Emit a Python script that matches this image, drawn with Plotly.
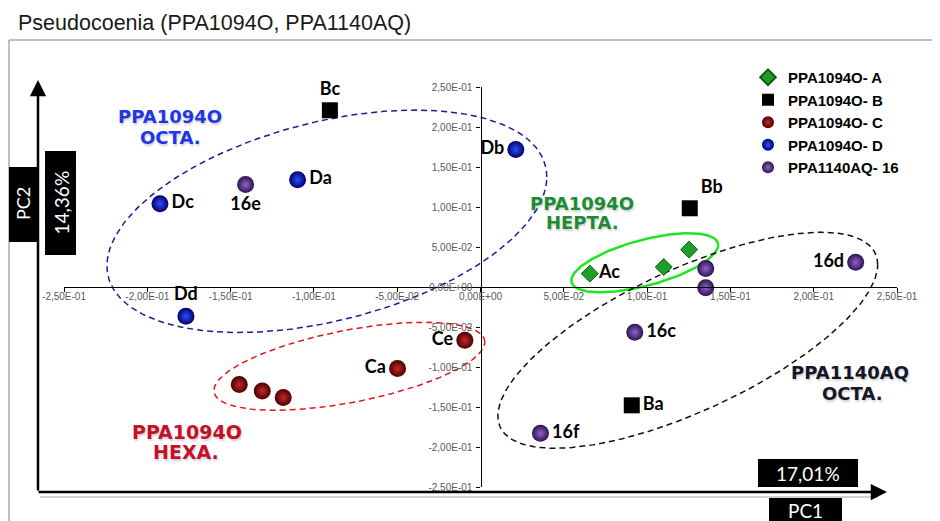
import numpy as np
import plotly.graph_objects as go

# ---------------- data ----------------
a_x = [0.0656, 0.1100, 0.1252]
a_y = [0.0167, 0.0250, 0.0467]
a_lab = ["Ac", "", ""]

b_x = [-0.0904, 0.1256, 0.0908]
b_y = [0.2209, 0.0984, -0.1479]
b_lab = ["Bc", "Bb", "Ba"]

c_x = [-0.0094, -0.0498, -0.1448, -0.1310, -0.1184]
c_y = [-0.0666, -0.1020, -0.1220, -0.1300, -0.1380]
c_lab = ["Ce", "Ca", "", "", ""]

d_x = [-0.1924, -0.1098, -0.1768, 0.0212]
d_y = [0.1042, 0.1342, -0.0366, 0.1720]
d_lab = ["Dc", "Da", "Dd", "Db"]

p_x = [-0.1410, 0.1352, 0.1352, 0.2252, 0.0926, 0.0360]
p_y = [0.1280, 0.0230, -0.0008, 0.0309, -0.0566, -0.1829]
p_lab = ["16e", "", "", "16d", "16c", "16f"]

series_names = ["PPA1094O- A", "PPA1094O- B", "PPA1094O- C", "PPA1094O- D", "PPA1140AQ- 16"]

tick_vals = [-0.25, -0.20, -0.15, -0.10, -0.05, 0.0, 0.05, 0.10, 0.15, 0.20, 0.25]
tick_text = ["-2,50E-01", "-2,00E-01", "-1,50E-01", "-1,00E-01", "-5,00E-02", "0,00E+00",
             "5,00E-02", "1,00E-01", "1,50E-01", "2,00E-01", "2,50E-01"]

# group ellipses: centre, half-extent in x / y, tilt factor
ellipses = [
    dict(cx=-0.0922, cy=0.0821, w=0.132, h=0.139, c=0.40, color="#1c1c96", dash="6px,4px", width=1.5),
    dict(cx=-0.0787, cy=-0.0991, w=0.0813, h=0.055, c=0.55, color="#e3161c", dash="6px,4px", width=1.5),
    dict(cx=0.0986, cy=0.0303, w=0.0441, h=0.0369, c=0.60, color="#1ee61e", dash="solid", width=2.5),
    dict(cx=0.1244, cy=-0.0666, w=0.114, h=0.135, c=0.70, color="#111111", dash="6px,4px", width=1.5),
]

# ---------------- layout helpers ----------------
# the page body adds an 8px margin, so the figure is made 8px smaller and
# every screen position below (given in window pixels) is shifted by OFF.
OFF = 8
WIN_W, WIN_H = 940, 521
W, H = WIN_W - OFF, WIN_H - OFF
L, R, T, B = 64, 897, 87, 487          # plot area in window pixels


def px(x):
    return (x - L) / (R - L)


def py(y):
    return (B - y) / (B - T)


fig = go.Figure()

t = np.linspace(0, 2 * np.pi, 241)
for e in ellipses:
    phi = np.arccos(e["c"])
    fig.add_trace(go.Scatter(
        x=e["cx"] + e["w"] * np.cos(t),
        y=e["cy"] + e["h"] * np.cos(t - phi),
        mode="lines", line=dict(color=e["color"], width=e["width"], dash=e["dash"]),
        showlegend=False, hoverinfo="skip"))

lab_font = dict(family="Lato", size=18, color="black", weight="bold")

fig.add_trace(go.Scatter(
    x=a_x, y=a_y, text=a_lab, mode="markers+text", name=series_names[0], cliponaxis=False,
    textposition=["middle right"] * 3, textfont=lab_font,
    marker=dict(symbol="diamond", size=13, color="#1d9e2a", line=dict(color="#0d5c12", width=1))))

fig.add_trace(go.Scatter(
    x=b_x, y=b_y, text=b_lab, mode="markers+text", name=series_names[1], cliponaxis=False,
    textposition=["top center", "top right", "middle right"], textfont=lab_font,
    marker=dict(symbol="square", size=16, color="black")))

# spheres: marker.color is the rim, gradient.color the (lighter) centre
fig.add_trace(go.Scatter(
    x=c_x, y=c_y, text=c_lab, mode="markers+text", name=series_names[2], cliponaxis=False,
    textposition=["middle left"] * 5, textfont=lab_font,
    marker=dict(symbol="circle", size=17, color="#4a0000",
                gradient=dict(type="radial", color="#c42a2a"), line=dict(width=0))))

fig.add_trace(go.Scatter(
    x=d_x, y=d_y, text=d_lab, mode="markers+text", name=series_names[3], cliponaxis=False,
    textposition=["middle right", "middle right", "top center", "middle left"], textfont=lab_font,
    marker=dict(symbol="circle", size=17, color="#00006a",
                gradient=dict(type="radial", color="#2c50ff"), line=dict(width=0))))

fig.add_trace(go.Scatter(
    x=p_x, y=p_y, text=p_lab, mode="markers+text", name=series_names[4], cliponaxis=False,
    textposition=["bottom center", "middle right", "middle right", "middle left", "middle right", "middle right"],
    textfont=lab_font,
    marker=dict(symbol="circle", size=17, color="#2e1252",
                gradient=dict(type="radial", color="#8e64c6"), line=dict(width=0))))

axis_common = dict(
    range=[-0.25, 0.25], anchor="free", position=0.5,
    showline=True, linecolor="black", linewidth=1.3,
    ticks="outside", ticklen=4, tickcolor="black", tickwidth=1,
    tickvals=tick_vals, ticktext=tick_text,
    tickfont=dict(family="Liberation Sans", size=10, color="#595959"),
    showgrid=False, zeroline=False, fixedrange=True)

xaxis = dict(axis_common, ticklabelstandoff=-4)
yaxis = dict(axis_common, ticklabelstandoff=2)

shapes = []
annotations = []

# outer frame (top & left)
shapes.append(dict(type="line", xref="paper", yref="paper", x0=px(9), x1=px(950), y0=py(40), y1=py(40),
                   line=dict(color="#7f7f7f", width=1)))
shapes.append(dict(type="line", xref="paper", yref="paper", x0=px(9), x1=px(9), y0=py(40), y1=py(530),
                   line=dict(color="#7f7f7f", width=1)))
# arrow shadow
shapes.append(dict(type="line", xref="paper", yref="paper", x0=px(40), x1=px(878), y0=py(497), y1=py(497),
                   line=dict(color="rgba(0,0,0,0.18)", width=2)))

# arrows
annotations.append(dict(xref="paper", yref="paper", x=px(887), y=py(492), ax=-850, ay=0, text="",
                        showarrow=True, arrowhead=2, arrowsize=1.3, arrowwidth=2.5, arrowcolor="black"))
annotations.append(dict(xref="paper", yref="paper", x=px(38), y=py(80), ax=0, ay=412, text="",
                        showarrow=True, arrowhead=2, arrowsize=1.3, arrowwidth=2.5, arrowcolor="black"))

# black boxes with white text
boxes = [
    (9, 37, 167, 242, 204, "PC2", -90, 18),
    (45, 76, 151, 255, 203, "14,36%", -90, 19),
    (758, 858, 459, 487, 473, "17,01%", 0, 19),
    (769, 842, 498, 530, 510, "PC1", 0, 19),
]
for x0, x1, y0, y1, yc, txt, ang, fs in boxes:
    shapes.append(dict(type="rect", xref="paper", yref="paper", x0=px(x0), x1=px(x1), y0=py(y1), y1=py(y0),
                       fillcolor="black", line=dict(width=0), layer="above"))
    annotations.append(dict(xref="paper", yref="paper", x=px((x0 + x1) / 2), y=py(yc), text=txt,
                            textangle=ang, showarrow=False, xanchor="center", yanchor="middle",
                            font=dict(family="Lato", size=fs, color="white")))

# group word-art labels
groups = [
    ("PPA1094O", 170, 117, 18, "#1f36e8"),
    ("OCTA.", 170, 138, 18, "#1f36e8"),
    ("PPA1094O", 582, 203, 18, "#1e8a35"),
    ("HEPTA.", 582, 222, 18, "#1e8a35"),
    ("PPA1094O", 187, 432, 19, "#c5102a"),
    ("HEXA.", 186, 452, 19, "#c5102a"),
    ("PPA1140AQ", 850, 372, 18, "#15152a"),
    ("OCTA.", 852, 393, 18, "#15152a"),
]
for txt, x, y, fs, col in groups:
    annotations.append(dict(xref="paper", yref="paper", x=px(x), y=py(y), text=txt, showarrow=False,
                            xanchor="center", yanchor="middle",
                            font=dict(family="DejaVu Sans", size=fs, color=col, weight="bold",
                                      shadow="1px 2px 2px rgba(0,0,0,0.18)")))

fig.update_layout(
    width=W, height=H, autosize=False,
    margin=dict(l=L - OFF, r=W - (R - OFF), t=T - OFF, b=H - (B - OFF), pad=0),
    paper_bgcolor="white", plot_bgcolor="white",
    xaxis=xaxis, yaxis=yaxis,
    title=dict(text="Pseudocoenia (PPA1094O, PPA1140AQ)", x=(18 - OFF) / W, xref="container", xanchor="left",
               y=1 - (22 - OFF) / H, yref="container", yanchor="middle",
               font=dict(family="Liberation Sans", size=21.5, color="#1a1a1a")),
    legend=dict(x=px(748), y=py(61), xanchor="left", yanchor="top", bgcolor="rgba(0,0,0,0)",
                itemwidth=30, itemsizing="constant", traceorder="normal",
                font=dict(family="Liberation Sans", size=15, color="black", weight="bold")),
    showlegend=True, hovermode=False,
    shapes=shapes, annotations=annotations,
)

fig.write_html("out.html")
